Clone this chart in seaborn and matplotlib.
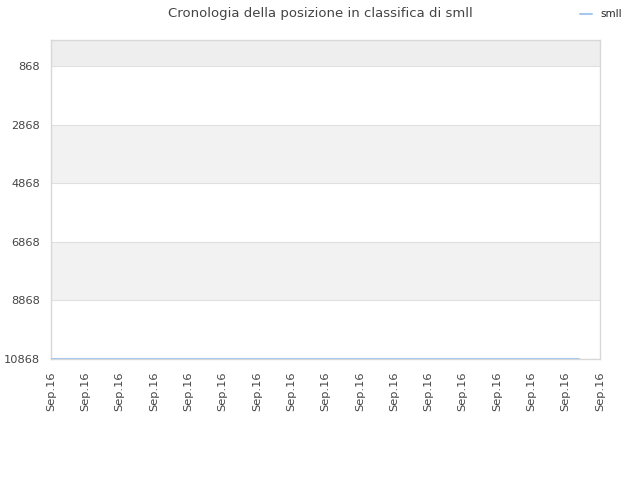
import seaborn as sns
import matplotlib.pyplot as plt
import pandas as pd

sns.set_theme(style="white")
plt.rcParams['font.family'] = ['DejaVu Sans']

# data
x_pos = [0, 15.4]
ranks = [10868, 10868]
tick_pos = list(range(17))
tick_labels = ["Sep.16"] * 17
y_ticks = [868, 2868, 4868, 6868, 8868, 10868]
series_name = "smll"

df = pd.DataFrame({"x": x_pos, "rank": ranks})

fig = plt.figure(figsize=(6.4, 4.8), dpi=100)
ax = fig.add_axes([51 / 640, 1 - 359 / 480, 549 / 640, 319 / 480])

y_top = -19
y_bot = 10868
# alternating bands
ax.axhspan(y_top, 868, color="#eeeeee", zorder=0, lw=0)
for i, lo in enumerate(y_ticks[:-1]):
    if i % 2 == 1:
        ax.axhspan(lo, lo + 2000, color="#f2f2f2", zorder=0, lw=0)
for t in y_ticks:
    ax.axhline(t, color="#e0e0e0", lw=0.8, zorder=1)

sns.lineplot(data=df, x="x", y="rank", ax=ax, color="#a6c8ee", lw=1.5,
             label=series_name, legend=False, zorder=3)

ax.set_xlim(0, 16)
ax.set_ylim(y_bot, y_top)
ax.set_yticks(y_ticks)
ax.set_yticklabels([str(t) for t in y_ticks], fontsize=8.2, color="#444444")
ax.set_xticks(tick_pos)
ax.set_xticklabels(tick_labels, rotation=90, fontsize=8.2, color="#444444")
ax.set_xlabel("")
ax.set_ylabel("")
ax.tick_params(axis="y", length=0, pad=8)
ax.tick_params(axis="x", length=0, pad=9)
for s in ax.spines.values():
    s.set_color("#d8d8d8")
    s.set_linewidth(1)

fig.suptitle("Cronologia della posizione in classifica di smll", x=0.5, y=0.985,
             fontsize=9.5, color="#444444")
handles, labels = ax.get_legend_handles_labels()
fig.legend(handles, labels, loc="upper right", bbox_to_anchor=(0.986, 1.0), frameon=False,
           fontsize=7.5, handlelength=1.1, handletextpad=0.8)

fig.savefig("out.png", dpi=100)
